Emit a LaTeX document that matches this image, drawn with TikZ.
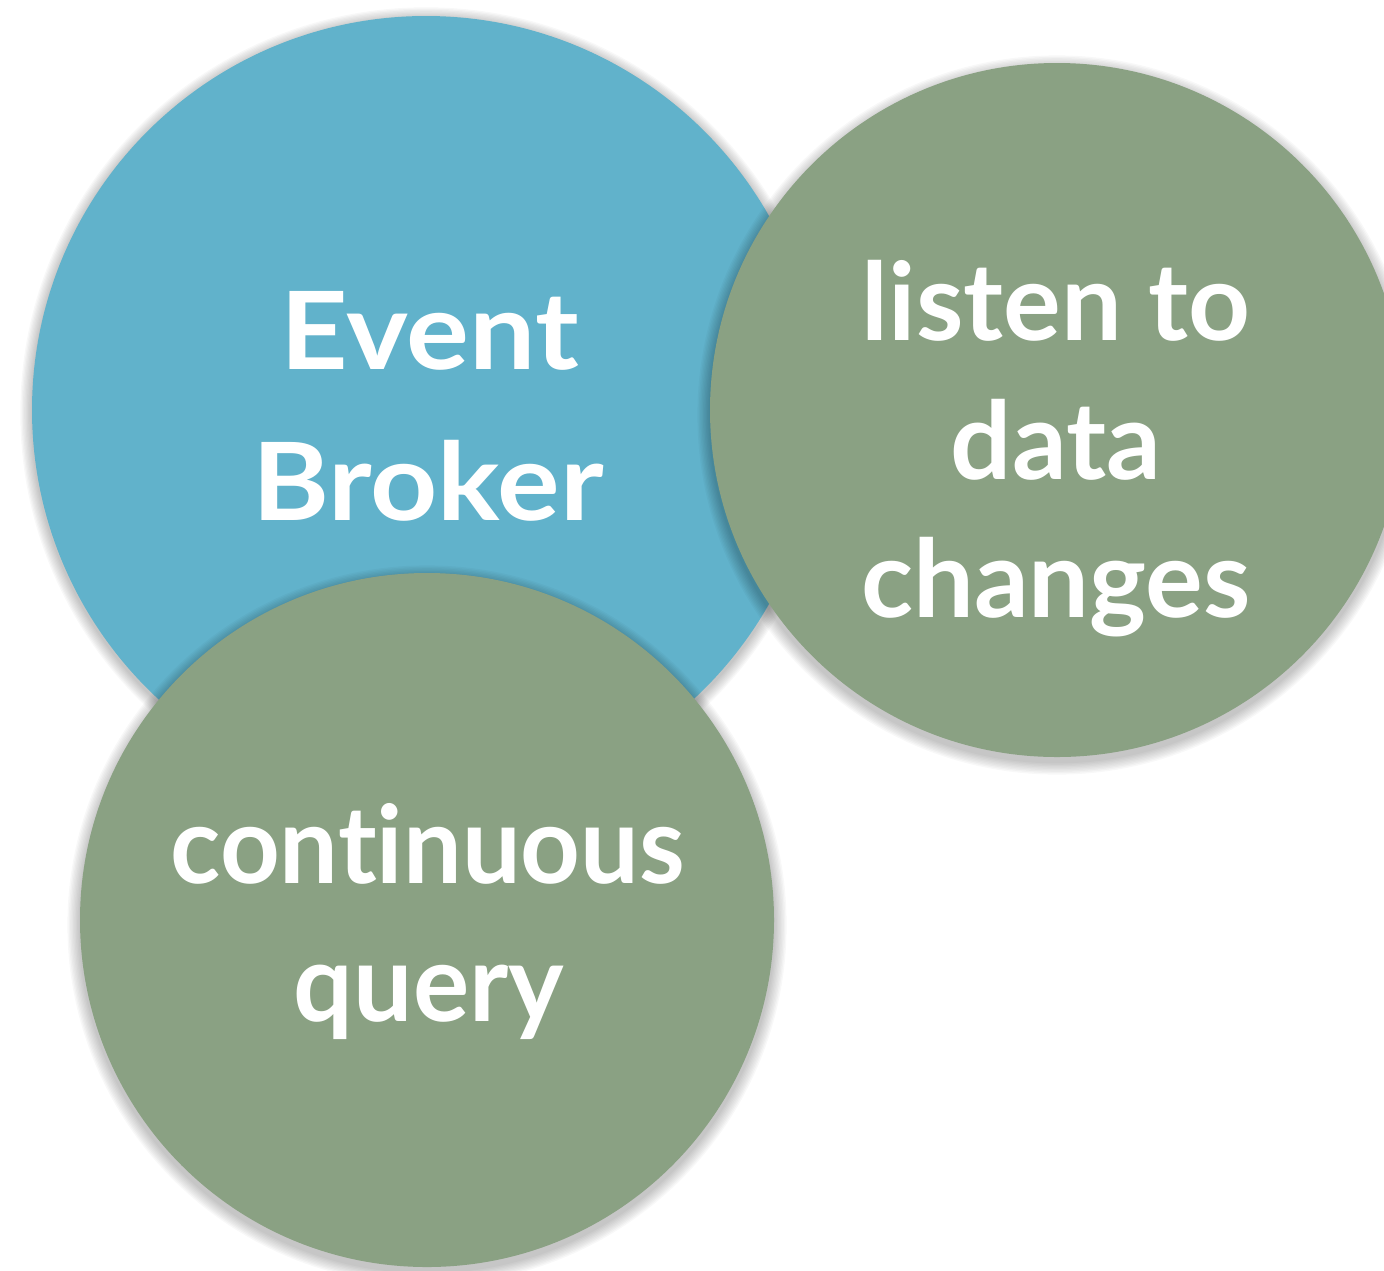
\documentclass[tikz,border=0pt]{standalone}
\usepackage{fontspec}
\setmainfont{Lato}[Ligatures={NoCommon}]
\definecolor{eblue}{RGB}{97,178,203}
\definecolor{egreen}{RGB}{138,161,131}
\begin{document}
\begin{tikzpicture}[x=0.5pt,y=-0.5pt,
  bubble/.style={circle, inner sep=0pt, outer sep=0pt, draw=none, minimum size=#1},
  lbl/.style={text=white, font=\fontsize{54}{60}\selectfont\bfseries, anchor=base, inner sep=0pt},
  shade/.style={fill=black, opacity=0.028}
]
\useasboundingbox (0,0) rectangle (1384,1270);
% blue circle
\foreach \i in {1,...,9}{\fill[shade] (426,413) circle ({394+\i*1.3});}
\node[bubble=394pt, fill=eblue] (broker) at (426,410) {};
% right green circle
\foreach \i in {1,...,9}{\fill[shade] (1057,415) circle ({347+\i*1.4});}
\node[bubble=347pt, fill=egreen] (listen) at (1057,410) {};
% bottom green circle
\foreach \i in {1,...,9}{\fill[shade] (427,925) circle ({347+\i*1.4});}
\node[bubble=347pt, fill=egreen] (query) at (427,920) {};
% texts
\node[lbl, xscale=1.09] (t1) at (430,369) {Event};
\node[lbl, xscale=1.085] (t2) at (428,520) {Broker};
\node[lbl] (t3) at (1056,340) {listen to};
\node[lbl] (t4) at (1056,479) {data};
\node[lbl] (t5) at (1056,617) {changes};
\node[lbl, xscale=0.965] (t6) at (428,883) {continuous};
\node[lbl, xscale=0.975] (t7) at (429,1021) {query};
\end{tikzpicture}
\end{document}
